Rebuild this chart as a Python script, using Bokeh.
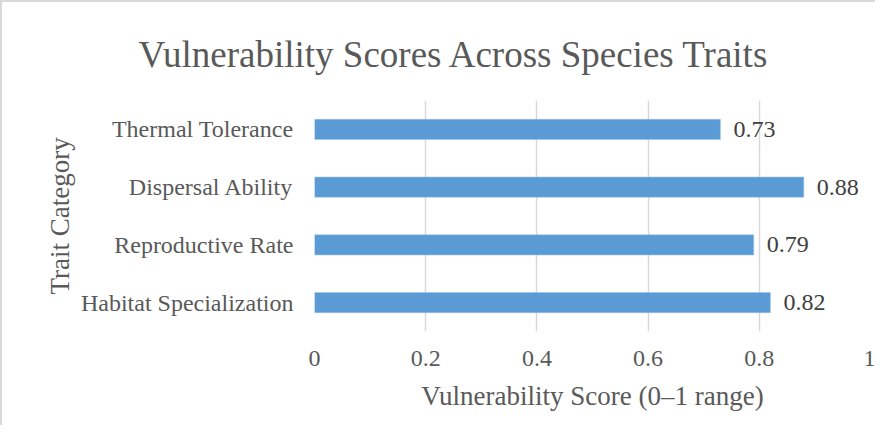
from bokeh.plotting import figure
from bokeh.models import ColumnDataSource, FixedTicker, NumeralTickFormatter, Range1d, FactorRange
from bokeh.core.properties import value
from bokeh.embed import file_html
from bokeh.resources import INLINE

categories = ["Habitat Specialization", "Reproductive Rate", "Dispersal Ability", "Thermal Tolerance"]
scores = [0.82, 0.79, 0.88, 0.73]
x_ticks = [0, 0.2, 0.4, 0.6, 0.8, 1]

FONT = "Liberation Serif"
TXT = "#595959"

src = ColumnDataSource(dict(cat=categories, score=scores,
                            lbl=[f"{v:.2f}" for v in scores]))

p = figure(width=875, height=425, output_backend="svg", toolbar_location=None,
           y_range=FactorRange(*categories, range_padding=0),
           x_range=Range1d(0, 1),
           min_border_left=312, min_border_right=7,
           min_border_top=98, min_border_bottom=96)

p.styles = {"border-left": "2px solid #D9D9D9", "border-top": "2px solid #D9D9D9"}

p.hbar(y="cat", right="score", left=0, height=0.35, source=src,
       fill_color="#5B9BD5", line_color="#9DC3E6", line_width=0.5)

p.text(x="score", y="cat", text="lbl", source=src, x_offset=13,
       text_baseline="middle", text_align="left",
       text_font=value(FONT), text_font_size="24px", text_color="#404040")

p.title.text = "Vulnerability Scores Across Species Traits"
p.title.align = "left"
p.title.offset = -176
p.title.text_font = FONT
p.title.text_font_size = "37px"
p.title.text_font_style = "normal"
p.title.text_color = TXT
p.title.standoff = 52

p.outline_line_color = None
p.background_fill_color = "white"
p.border_fill_color = "white"

p.xaxis.ticker = FixedTicker(ticks=x_ticks)
p.xaxis.formatter = NumeralTickFormatter(format="0.[0]")
p.xaxis.axis_line_color = None
p.xaxis.major_tick_line_color = None
p.xaxis.minor_tick_line_color = None
p.xaxis.major_label_standoff = 13
p.xaxis.major_label_text_font = FONT
p.xaxis.major_label_text_font_size = "24px"
p.xaxis.major_label_text_color = TXT
p.xaxis.axis_label = "Vulnerability Score (0–1 range)"
p.xaxis.axis_label_text_font = FONT
p.xaxis.axis_label_text_font_size = "27px"
p.xaxis.axis_label_text_font_style = "normal"
p.xaxis.axis_label_text_color = TXT
p.xaxis.axis_label_standoff = 12

p.yaxis.axis_line_color = None
p.yaxis.major_tick_line_color = None
p.yaxis.minor_tick_line_color = None
p.yaxis.major_label_standoff = 15
p.yaxis.major_label_text_font = FONT
p.yaxis.major_label_text_font_size = "24px"
p.yaxis.major_label_text_color = TXT
p.yaxis.axis_label = "Trait Category"
p.yaxis.axis_label_text_font = FONT
p.yaxis.axis_label_text_font_size = "27px"
p.yaxis.axis_label_text_font_style = "normal"
p.yaxis.axis_label_text_color = TXT
p.yaxis.axis_label_standoff = 3

p.xgrid.grid_line_color = "#D9D9D9"
p.xgrid.grid_line_width = 1.5
p.ygrid.grid_line_color = None

open("out.html", "w").write(file_html(p, INLINE))
